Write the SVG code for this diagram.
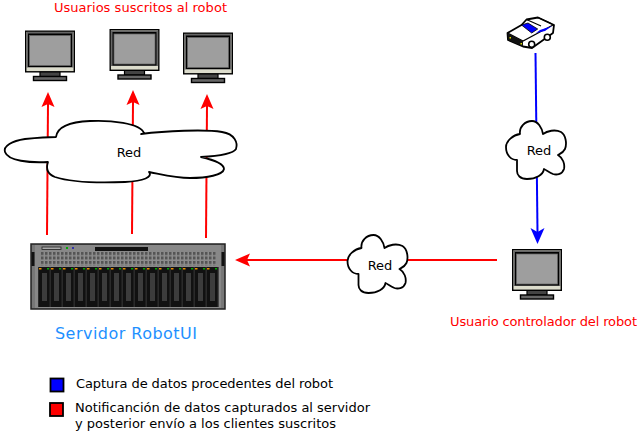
<svg xmlns="http://www.w3.org/2000/svg" width="637" height="448" viewBox="0 0 637 448">
<style>
text{font-family:"DejaVu Sans",sans-serif;font-size:13px;fill:#000}
.red{fill:#f00}
.cloud{fill:#fff;stroke:#000;stroke-width:1.8;stroke-linejoin:round}
.rl{stroke:#f00;stroke-width:2;fill:none}
.bl{stroke:#00f;stroke-width:2;fill:none}
.rh{fill:#f00}.bh{fill:#00f}
.lg{stroke:#000;stroke-width:1.8}
</style>
<defs>
<g id="mon">
<rect x="15" y="41" width="20" height="5" fill="#444" stroke="#000" stroke-width="1.200"/>
<rect x="8.500" y="46" width="33" height="4" fill="#666" stroke="#000" stroke-width="1.400"/>
<rect x="0.700" y="0.700" width="48.600" height="40.600" fill="#dcdccc" stroke="#000" stroke-width="1.400"/>
<rect x="1.400" y="1.400" width="47.200" height="35.600" fill="#666"/>
<rect x="3" y="3" width="44" height="33.500" fill="#000"/>
<rect x="4.500" y="5" width="41" height="30" fill="#9e9e9e" stroke="#666" stroke-width=".8"/>
</g>
<g id="bay">
<rect x="0" y="0" width="11.200" height="40" fill="#111"/>
<rect x="3.500" y="6" width="5" height="28" fill="#3c3c3c"/>
<rect x="0.500" y="1" width="2.500" height="1.500" fill="#e89000"/>
<rect x="8.500" y="1" width="2" height="1.500" fill="#0a0"/>
</g>
<pattern id="dots" width="4" height="4.500" patternUnits="userSpaceOnUse" x="41" y="252">
<rect width="4" height="4.500" fill="#8c8c8c"/><rect width="2.500" height="3" fill="#555"/>
</pattern>
<path id="smallcloud" class="cloud" d="M14 12C13 5 19 -1 26 -1C32 -1 36 6 37 12C41 9 49 7 55 10C60 13 61 22 59 27C57 31 54 32 52 33C57 36 59 42 58 47C56 53 50 53 47 52C43 50 40 48 38 47C37 53 30 57 21 57C14 57 11 53 11 49C11 45 11 42 11 38C5 38 0 33 0 25C0 19 7 13 14 12Z"/>
</defs>
<g id="connectors">
<path class="rl" d="M47 235L48 104"/><path class="rh" d="M48 92L41.500 107L48 104L54.500 107Z"/>
<path class="rl" d="M132 234L133 102"/><path class="rh" d="M133 90L126.500 105L133 102L139.500 105Z"/>
<path class="rl" d="M206 238L207 106"/><path class="rh" d="M207 94L200.500 109L207 106L213.500 109Z"/>
<path class="rl" d="M497 260L247 260"/><path class="rh" d="M235 260L250 253.500L247 260L250 266.500Z"/>
<path class="bl" d="M535.500 53L537.500 232"/><path class="bh" d="M537.500 244L530.500 228L537.500 232L544.500 228Z"/>
</g>
<g id="node-usuarios-label"><text class="red" x="54" y="12" textLength="173">Usuarios suscritos al robot</text></g>
<g id="node-monitor-1"><use href="#mon" x="25" y="30.500"/></g>
<g id="node-monitor-2"><use href="#mon" x="109.500" y="29"/></g>
<g id="node-monitor-3"><use href="#mon" x="183" y="32.500"/></g>
<g id="node-cloud-main">
<path class="cloud" d="M56 137C57 129 66 122 90 121C110 120 140 123 144 133C143 134 143 133.500 141 134C165 131 205 129 222 132C235 134 238 143 236 149C233 154 220 156 201 157C214 160 224 164 224 169C223 175 207 178 190 178C175 178 160 174 149 172C153 177 144 181 125 182C100 183 70 182 55 177C47 174 46 168 48 162C30 163 8 161 5 152C3 146 12 141 25 139C35 138 45 137 56 137Z"/>
<text x="129" y="157" text-anchor="middle">Red</text>
</g>
<g id="node-server">
<rect x="31" y="244" width="194" height="65" fill="#777" stroke="#222" stroke-width="1.500"/>
<rect x="35" y="245" width="186" height="63" fill="#888"/>
<rect x="31.500" y="252" width="3" height="14" fill="#111"/><rect x="221.500" y="252" width="3" height="14" fill="#111"/>
<rect x="42" y="247" width="19" height="2.500" fill="#aaa" stroke="#222" stroke-width=".8"/>
<rect x="66" y="247" width="2" height="2" fill="#0a0"/><rect x="72" y="247" width="2" height="2" fill="#33a"/>
<rect x="95" y="247" width="53" height="4" fill="#111"/>
<rect x="41" y="252" width="175" height="13.500" fill="url(#dots)"/>
<rect x="38" y="267" width="181" height="40" fill="#444"/>
<use href="#bay" x="38.500" y="267"/><use href="#bay" x="50.500" y="267"/><use href="#bay" x="62.500" y="267"/>
<use href="#bay" x="74.500" y="267"/><use href="#bay" x="86.500" y="267"/><use href="#bay" x="98.500" y="267"/>
<use href="#bay" x="110.500" y="267"/><use href="#bay" x="122.500" y="267"/><use href="#bay" x="134.500" y="267"/>
<use href="#bay" x="146.500" y="267"/><use href="#bay" x="158.500" y="267"/><use href="#bay" x="170.500" y="267"/>
<use href="#bay" x="182.500" y="267"/><use href="#bay" x="194.500" y="267"/><use href="#bay" x="206.500" y="267"/>
</g>
<g id="node-server-label"><text x="55" y="339" textLength="142" style="font-size:16px;fill:#1e90ff">Servidor RobotUI</text></g>
<g id="node-robot">
<path d="M507.500 33L521.500 25L526.500 19.500L538 17.500L554 25L553 33L532 48L523 46.500L508 40Z" fill="#fff" stroke="#000" stroke-width="1.800" stroke-linejoin="round"/>
<path d="M507.500 33L523 41L553 25M526.500 19.500L541 26M538 17.500L552 24" fill="none" stroke="#000" stroke-width="1.200"/>
<path d="M521.500 25L528 23L537.700 29L531.700 33Z" fill="#00f" stroke="#000" stroke-width=".8"/>
<path d="M540 30L552 26L545 31L536 33Z" fill="#00f"/>
<path d="M507.500 33L523 41V46.500L508 40Z" fill="#111"/>
<rect x="509.500" y="37" width="1.500" height="1.500" fill="#dd0"/><rect x="520.500" y="43" width="1.500" height="1.500" fill="#dd0"/>
<circle cx="531.700" cy="44.300" r="3" fill="#fff" stroke="#000" stroke-width="1.600"/>
<circle cx="547.300" cy="37.300" r="3" fill="#fff" stroke="#000" stroke-width="1.600"/>
</g>
<g id="node-cloud-right"><use href="#smallcloud" x="506" y="122"/><text x="539" y="155" text-anchor="middle">Red</text></g>
<g id="node-cloud-center"><use href="#smallcloud" x="347.500" y="236"/><text x="380" y="270" text-anchor="middle">Red</text></g>
<g id="node-monitor-4"><use href="#mon" x="512" y="249"/></g>
<g id="node-controlador-label"><text class="red" x="450" y="326" textLength="187">Usuario controlador del robot</text></g>
<g id="legend">
<rect class="lg" x="50.500" y="378.500" width="13" height="13" fill="#00f"/>
<text x="76" y="388" textLength="257">Captura de datos procedentes del robot</text>
<rect class="lg" x="50" y="403" width="13" height="13" fill="#f00"/>
<text x="75" y="412" textLength="295">Notificanción de datos capturados al servidor</text>
<text x="75" y="428" textLength="261">y posterior envío a los clientes suscritos</text>
</g>
</svg>
